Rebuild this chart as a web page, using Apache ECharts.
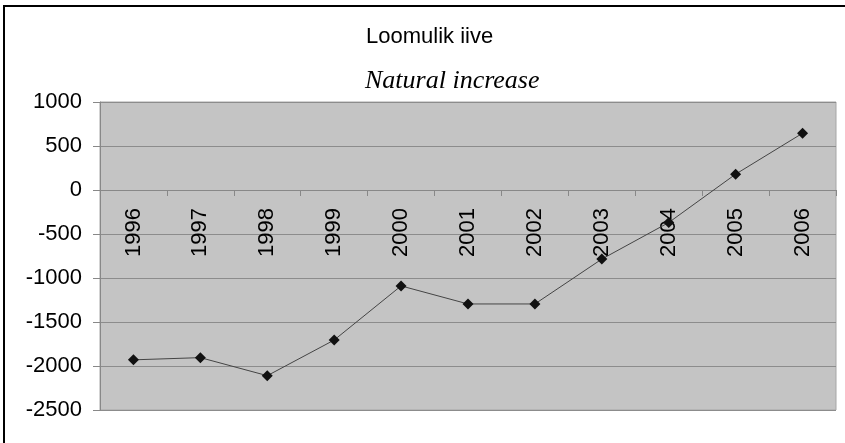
<!DOCTYPE html>
<html>
<head>
<meta charset="utf-8">
<script src="https://cdn.jsdelivr.net/npm/echarts@6/dist/echarts.min.js"></script>
<style>
  html, body { margin: 0; padding: 0; background: #fff; }
  #chart { width: 845px; height: 443px; }
</style>
</head>
<body>
<div id="chart"></div>
<script>
// loomulik iive 1996-2006
const years = ['1996', '1997', '1998', '1999', '2000', '2001', '2002', '2003', '2004', '2005', '2006']
const increase = [-1930, -1905, -2110, -1705, -1090, -1295, -1295, -785, -370, 180, 645]

const titleMain = 'Loomulik iive'
const titleSub = 'Natural increase'

const chart = echarts.init(document.getElementById('chart'))

const axisLabel = { color: '#000', fontSize: 22, fontFamily: 'Liberation Sans, Arial, sans-serif' }

chart.setOption({
  animation: false,
  backgroundColor: '#fff',
  title: [
    {
      text: titleMain,
      left: 361,
      top: 21,
      textStyle: { color: '#000', fontSize: 22, fontWeight: 'normal', fontFamily: 'Liberation Sans, Arial, sans-serif' },
    },
    {
      text: titleSub,
      left: 360,
      top: 63,
      textStyle: { color: '#000', fontSize: 26, fontWeight: 'normal', fontStyle: 'italic', fontFamily: 'Liberation Serif, Times New Roman, serif' },
    },
  ],
  graphic: [
    {
      type: 'rect',
      shape: { x: 4, y: 6, width: 1000, height: 1000 },
      style: { fill: 'none', stroke: '#000', lineWidth: 2 },
      z: 100,
    },
  ],
  grid: {
    left: 100,
    right: 9,
    top: 102,
    bottom: 33,
    outerBoundsMode: 'none',
    containLabel: false,
    show: true,
    backgroundColor: '#c4c4c4',
    borderColor: '#a6a6a6',
    borderWidth: 1,
  },
  xAxis: {
    type: 'category',
    data: years,
    boundaryGap: true,
    // axis sits on the zero line
    offset: -220,
    axisLine: { onZero: false, lineStyle: { color: '#888', width: 1 } },
    axisTick: { show: true, length: 6, lineStyle: { color: '#888' } },
    axisLabel: { ...axisLabel, rotate: 90, margin: 18, interval: 0 },
    splitLine: { show: false },
  },
  yAxis: {
    type: 'value',
    min: -2500,
    max: 1000,
    interval: 500,
    axisLine: { show: true, lineStyle: { color: '#888' } },
    axisTick: { show: true, length: 7, lineStyle: { color: '#888' } },
    axisLabel: { ...axisLabel, margin: 18, formatter: (v) => String(v) },
    splitLine: { show: true, lineStyle: { color: '#8c8c8c', width: 1 } },
  },
  series: [
    {
      type: 'line',
      data: increase,
      symbol: 'diamond',
      symbolSize: 11,
      lineStyle: { color: '#444', width: 1 },
      itemStyle: { color: '#111' },
      z: 5,
    },
  ],
})
</script>
</body>
</html>
